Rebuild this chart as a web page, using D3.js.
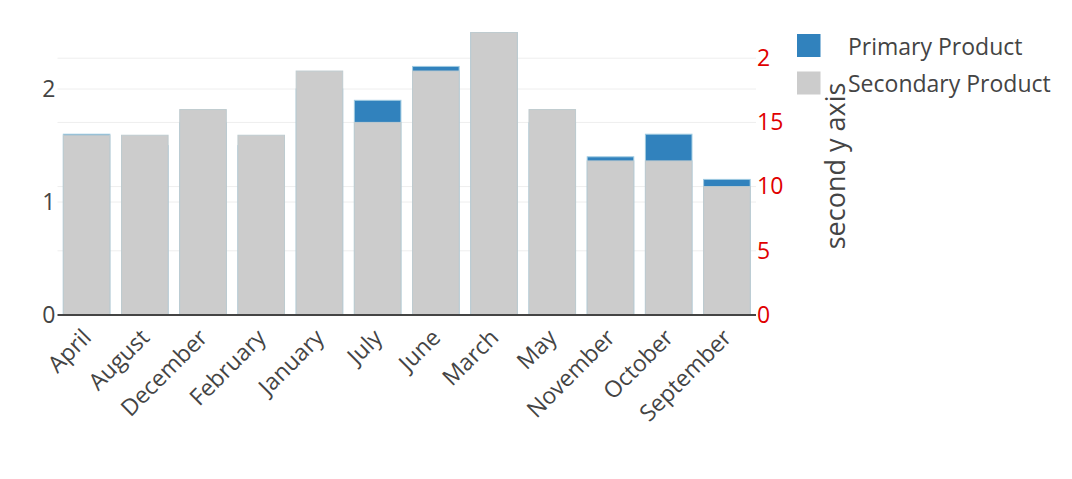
<!DOCTYPE html>
<html><head><meta charset="utf-8">
<script src="https://cdn.jsdelivr.net/npm/d3@7"></script>
<style>body{margin:0;background:#fff}svg{display:block}text{font-family:"Open Sans",sans-serif}</style>
</head><body><svg id="c" width="1072" height="479"></svg>
<script>
const categories = ["April","August","December","February","January","July","June","March","May","November","October","September"];
const primaryValues = [1.6, 1.5, 1.7, 1.5, 2.0, 1.9, 2.2, 2.5, 1.7, 1.4, 1.6, 1.2];
const secondaryValues = [14, 14, 16, 14, 19, 15, 19, 22, 16, 12, 12, 10];
const leftTicks = [0, 1, 2];
const rightTicks = [0, 5, 10, 15, 20];
const seriesNames = ["Primary Product", "Secondary Product"];
const seriesColors = ["#3182bd", "#cccccc"];

const svg = d3.select("#c");
const L = 57.5, R = 756, T = 18.4, B = 315;
const FS = 23;
const x = d3.scaleBand().domain(categories).range([L, R]).paddingInner(0.2).paddingOuter(0.1);
const yL = d3.scaleLinear().domain([0, d3.max(primaryValues) * 1.05]).range([B, T]);
const yR = d3.scaleLinear().domain([0, d3.max(secondaryValues) * 1.05]).range([B, T]);

// gridlines
const g = svg.append("g");
rightTicks.filter(d => d > 0).forEach(d => g.append("line").attr("x1", L).attr("x2", R).attr("y1", yR(d)).attr("y2", yR(d)).attr("stroke", "#eee").attr("stroke-width", 1));
leftTicks.filter(d => d > 0).forEach(d => g.append("line").attr("x1", L).attr("x2", R).attr("y1", yL(d)).attr("y2", yL(d)).attr("stroke", "#eee").attr("stroke-width", 1));

// bars
svg.append("g").selectAll("rect").data(categories).join("rect")
  .attr("x", d => x(d)).attr("width", x.bandwidth())
  .attr("y", (d, i) => yL(primaryValues[i])).attr("height", (d, i) => B - yL(primaryValues[i]))
  .attr("fill", seriesColors[0]).attr("stroke", "#9ecae1").attr("stroke-width", 1);
svg.append("g").selectAll("rect").data(categories).join("rect")
  .attr("x", d => x(d)).attr("width", x.bandwidth())
  .attr("y", (d, i) => yR(secondaryValues[i])).attr("height", (d, i) => B - yR(secondaryValues[i]))
  .attr("fill", seriesColors[1]).attr("stroke", "#bfcbcf").attr("stroke-width", 1);

// zero line
svg.append("line").attr("x1", L).attr("x2", R).attr("y1", B).attr("y2", B).attr("stroke", "#444").attr("stroke-width", 2);

// left axis labels
const axL = svg.append("g").attr("transform", `translate(${L},0)`)
  .call(d3.axisLeft(yL).tickValues(leftTicks).tickFormat(d3.format("d")).tickSize(0).tickPadding(2));
axL.select(".domain").remove();
axL.selectAll("text").attr("font-size", FS).attr("fill", "#444").style("font-family", "Open Sans");

// right axis labels
const axR = svg.append("g").attr("transform", `translate(${R},0)`)
  .call(d3.axisRight(yR).tickValues(rightTicks).tickFormat(d3.format("d")).tickSize(0).tickPadding(1));
axR.select(".domain").remove();
axR.selectAll("text").attr("font-size", FS).attr("fill", "#e00000").style("font-family", "Open Sans");

// x axis labels
const axX = svg.append("g").attr("transform", `translate(0,${B})`)
  .call(d3.axisBottom(x).tickSize(0).tickPadding(0));
axX.select(".domain").remove();
axX.selectAll("text").attr("font-size", FS).attr("fill", "#444").style("font-family", "Open Sans")
  .attr("text-anchor", "end").attr("dy", null).attr("y", 0)
  .attr("transform", "translate(6,24) rotate(-45)");

// legend background
svg.append("rect").attr("x", 770).attr("y", 24).attr("width", 302).attr("height", 76).attr("fill", "#fff");

// axis title
svg.append("text").attr("transform", "translate(845,166) rotate(-90)")
  .attr("text-anchor", "middle").attr("font-size", 27).attr("fill", "#444").text("second y axis");

// legend
const leg = svg.append("g");
seriesNames.forEach((n, i) => {
  leg.append("rect").attr("x", 797).attr("y", 34 + i * 37.5).attr("width", 23.5).attr("height", 23).attr("fill", seriesColors[i]);
  leg.append("text").attr("x", 848).attr("y", 55 + i * 36.8).attr("font-size", FS).attr("fill", "#444").text(n);
});
</script></body></html>
